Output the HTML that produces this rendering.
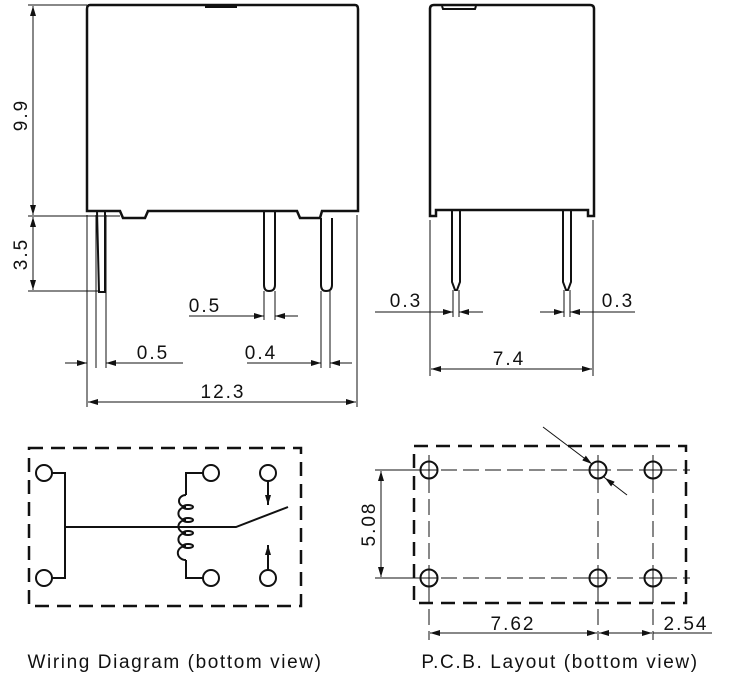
<!DOCTYPE html>
<html><head><style>
html,body{margin:0;padding:0;background:#fff;}
svg{display:block;}
text{font-family:"Liberation Sans",sans-serif;font-size:19px;fill:#111;letter-spacing:2px;}
</style></head><body>
<svg width="738" height="686" viewBox="0 0 738 686" xmlns="http://www.w3.org/2000/svg">
<defs>
<marker id="a" viewBox="0 0 10 6" refX="10" refY="3" markerWidth="10" markerHeight="6" orient="auto-start-reverse" markerUnits="userSpaceOnUse"><path d="M0,0 L10,3 L0,6 z" fill="#111"/></marker>
</defs>
<g stroke="#111" fill="none">
<!-- front view body -->
<path d="M90,5 H355 Q358,5 358,9 V211 H322 L320,218 H300 L297,211 H148 L145,218 H123 L120,211 H87 V9 Q87,5 90,5 Z" stroke-width="2.5"/>
<rect x="205" y="5" width="32" height="3" fill="#111" stroke="none"/>
<!-- pins -->
<path d="M97,211 L99,292 H105 V211" stroke-width="2"/>
<path d="M264,211 V285 Q264,291 269,291 Q275,291 275,285 V211" stroke-width="2"/>
<path d="M321,218 V285 Q321,291 326,291 Q332,291 332,285 V218" stroke-width="2"/>
<!-- dims front -->
<g stroke-width="1">
<line x1="28" y1="5" x2="87" y2="5"/>
<line x1="28" y1="216" x2="120" y2="216"/>
<line x1="28" y1="291" x2="100" y2="291"/>
<line x1="33" y1="6" x2="33" y2="215" marker-start="url(#a)" marker-end="url(#a)"/>
<line x1="33" y1="217" x2="33" y2="290" marker-start="url(#a)" marker-end="url(#a)"/>
<line x1="87" y1="215" x2="87" y2="407"/>
<line x1="96" y1="215" x2="96" y2="368"/>
<line x1="106" y1="215" x2="106" y2="368"/>
<line x1="321" y1="291" x2="321" y2="368"/>
<line x1="330" y1="291" x2="330" y2="368"/>
<line x1="357" y1="215" x2="357" y2="407"/>
<line x1="264" y1="291" x2="264" y2="320"/>
<line x1="275" y1="291" x2="275" y2="320"/>
<line x1="65" y1="363" x2="87" y2="363" marker-end="url(#a)"/>
<line x1="183" y1="363" x2="106" y2="363" marker-end="url(#a)"/>
<line x1="247" y1="363" x2="321" y2="363" marker-end="url(#a)"/>
<line x1="352" y1="363" x2="330" y2="363" marker-end="url(#a)"/>
<line x1="189" y1="316" x2="264" y2="316" marker-end="url(#a)"/>
<line x1="298" y1="316" x2="275" y2="316" marker-end="url(#a)"/>
<line x1="88" y1="402" x2="356" y2="402" marker-start="url(#a)" marker-end="url(#a)"/>
</g>
<!-- side view -->
<path d="M434,5 H590 Q594,5 594,9 V216 H588 V210 H436 V216 H430 V9 Q430,5 434,5 Z" stroke-width="2.5"/>
<path d="M442,6 L443,9 H475 L476,6" stroke-width="2"/>
<path d="M452,210 V282 L455,290 H457 L460,282 V210" stroke-width="2"/>
<path d="M563,210 V282 L566,290 H568 L571,282 V210" stroke-width="2"/>
<g stroke-width="1">
<line x1="430" y1="220" x2="430" y2="376"/>
<line x1="593" y1="220" x2="593" y2="376"/>
<line x1="453" y1="290" x2="453" y2="317"/>
<line x1="459" y1="290" x2="459" y2="317"/>
<line x1="564" y1="290" x2="564" y2="317"/>
<line x1="570" y1="290" x2="570" y2="317"/>
<line x1="375" y1="312" x2="453" y2="312" marker-end="url(#a)"/>
<line x1="483" y1="312" x2="459" y2="312" marker-end="url(#a)"/>
<line x1="540" y1="312" x2="564" y2="312" marker-end="url(#a)"/>
<line x1="635" y1="312" x2="570" y2="312" marker-end="url(#a)"/>
<line x1="431" y1="369" x2="592" y2="369" marker-start="url(#a)" marker-end="url(#a)"/>
</g>
<!-- wiring diagram -->
<rect x="29" y="448" width="272" height="158" stroke-width="2.5" stroke-dasharray="14,8"/>
<g stroke-width="2">
<circle cx="44" cy="473" r="8"/><circle cx="44" cy="578" r="8"/>
<circle cx="211" cy="473" r="8"/><circle cx="211" cy="578" r="8"/>
<circle cx="268" cy="473" r="8"/><circle cx="268" cy="578" r="8"/>
<path d="M52,473 H65 V578 H52"/>
<path d="M65,527 H236 L288,507"/>
<path d="M203,473 H186 V495 M186,560 V578 H203"/>
<path d="M186,495 a7,6 0 1 0 0,12 a7,6 0 1 0 0,13 a7,6 0 1 0 0,13 a7,6 0 1 0 0,13 a7,6 0 1 0 0,14"/>
<ellipse cx="188" cy="507" rx="5" ry="2"/><ellipse cx="188" cy="520" rx="5" ry="2"/><ellipse cx="188" cy="533" rx="5" ry="2"/><ellipse cx="188" cy="546" rx="5" ry="2"/>
<line x1="268" y1="481" x2="268" y2="505" marker-end="url(#a)"/>
<line x1="268" y1="570" x2="268" y2="545" marker-end="url(#a)"/>
</g>
<!-- PCB -->
<rect x="414" y="446" width="272" height="157" stroke-width="2.5" stroke-dasharray="14,8"/>
<g stroke-width="1">
<line x1="375" y1="470" x2="690" y2="470" stroke-dasharray="16,6"/>
<line x1="375" y1="578" x2="690" y2="578" stroke-dasharray="16,6"/>
<line x1="429" y1="455" x2="429" y2="640" stroke-dasharray="16,6"/>
<line x1="598" y1="455" x2="598" y2="640" stroke-dasharray="16,6"/>
<line x1="653" y1="455" x2="653" y2="640" stroke-dasharray="16,6"/>
<line x1="375" y1="470" x2="420" y2="470"/>
<line x1="375" y1="578" x2="420" y2="578"/>
<line x1="381" y1="471" x2="381" y2="577" marker-start="url(#a)" marker-end="url(#a)"/>
<line x1="430" y1="633" x2="597" y2="633" marker-start="url(#a)" marker-end="url(#a)"/>
<line x1="599" y1="633" x2="652" y2="633" marker-start="url(#a)" marker-end="url(#a)"/>
<line x1="653" y1="633" x2="712" y2="633"/>
<line x1="543" y1="427" x2="592" y2="464" marker-end="url(#a)"/>
<line x1="627" y1="495" x2="605" y2="478" marker-end="url(#a)"/>
<line x1="596" y1="467" x2="605" y2="478"/>
</g>
<g stroke-width="2" fill="#fff">
<circle cx="429" cy="470" r="8.5"/><circle cx="598" cy="470" r="8.5"/><circle cx="653" cy="470" r="8.5"/>
<circle cx="429" cy="578" r="8.5"/><circle cx="598" cy="578" r="8.5"/><circle cx="653" cy="578" r="8.5"/>
</g>
<g stroke-width="1">
<path d="M421,470h16M429,462v16M590,470h16M598,462v16M645,470h16M653,462v16M421,578h16M429,570v16M590,578h16M598,570v16M645,578h16M653,570v16"/>
</g>
</g>
<!-- labels -->
<text x="20" y="115" transform="rotate(-90 20 115)" text-anchor="middle" dy="7">9.9</text>
<text x="20" y="254" transform="rotate(-90 20 254)" text-anchor="middle" dy="7">3.5</text>
<text x="205" y="312" text-anchor="middle">0.5</text>
<text x="153" y="359" text-anchor="middle">0.5</text>
<text x="261" y="359" text-anchor="middle">0.4</text>
<text x="223" y="398" text-anchor="middle">12.3</text>
<text x="406" y="307" text-anchor="middle">0.3</text>
<text x="618" y="307" text-anchor="middle">0.3</text>
<text x="509" y="365" text-anchor="middle">7.4</text>
<text x="368" y="524" transform="rotate(-90 368 524)" text-anchor="middle" dy="7">5.08</text>
<text x="513" y="630" text-anchor="middle">7.62</text>
<text x="686" y="630" text-anchor="middle">2.54</text>
<text x="175" y="668" text-anchor="middle" style="letter-spacing:1.6px">Wiring Diagram (bottom view)</text>
<text x="560" y="668" text-anchor="middle" style="letter-spacing:1.6px">P.C.B. Layout (bottom view)</text>
</svg>
</body></html>
